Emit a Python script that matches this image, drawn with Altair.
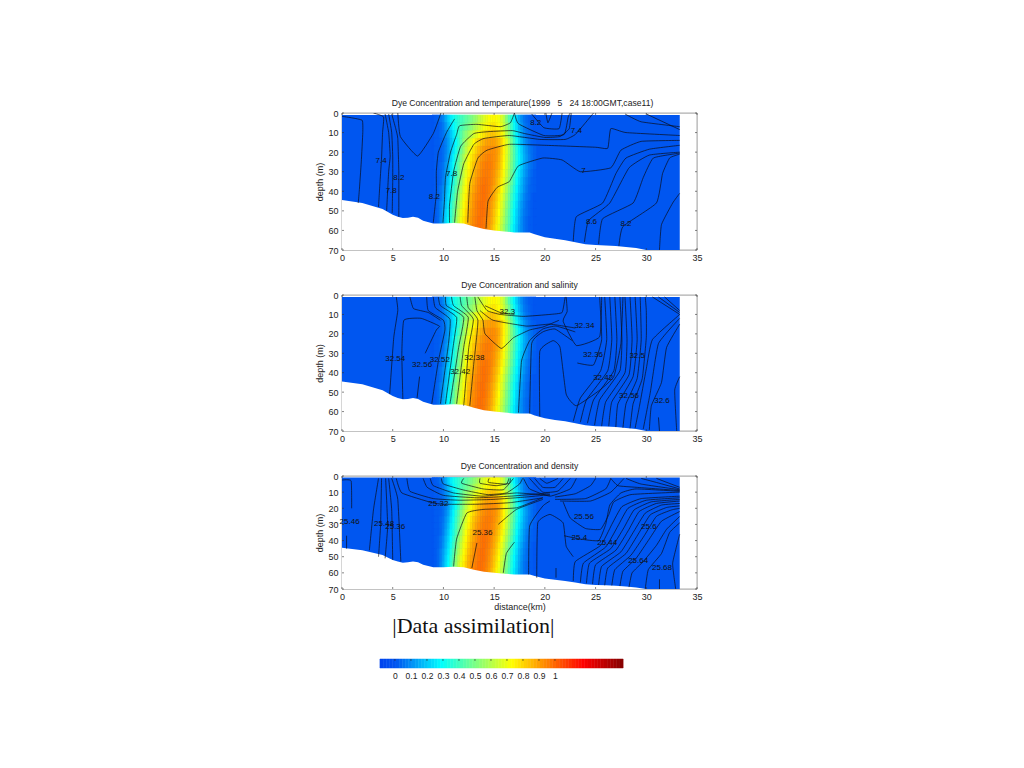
import altair as alt
import pandas as pd

FONT = "Liberation Sans"
X_TICKS = [0, 5, 10, 15, 20, 25, 30, 35]
Y_TICKS = [0, 10, 20, 30, 40, 50, 60, 70]
BAR_TICKS = [0, 0.1, 0.2, 0.3, 0.4, 0.5, 0.6, 0.7, 0.8, 0.9, 1]
BAR_LEVELS = [round(-0.094 + 0.02 * i, 3) for i in range(76)]
SCALE_DOMAIN = [-0.094, 0, 0.28, 0.5, 0.72, 1.17, 1.44]
SCALE_RANGE = ["#0044ee", "#0056f0", "#00ffff", "#80ff80", "#ffff00", "#ff0000", "#780000"]

BOTTOM_X = [0, 2, 4, 5, 5.5, 6, 6.5, 7, 7.5, 8, 9, 10, 11, 12, 13, 14, 15, 16, 17, 18, 18.5, 19, 20, 21, 22, 23, 24, 25, 26, 27, 28, 29, 30, 31, 33.3]
BOTTOM_D = [44.5, 46, 49, 52, 53, 53.7, 53.5, 53, 53.5, 55, 56.5, 56.5, 56.2, 56.5, 58, 59.3, 60, 60.5, 61, 61, 61, 62, 63.5, 64.3, 65, 66, 67, 67.5, 67.7, 68, 68.5, 69, 70, 70.5, 71]

DYE_X = [9, 9.25, 9.5, 9.75, 10, 10.25, 10.5, 10.75, 11, 11.25, 11.5, 11.75, 12, 12.25, 12.5, 12.75, 13, 13.25, 13.5, 13.75, 14, 14.25, 14.5, 14.75, 15, 15.25, 15.5, 15.75, 16, 16.25, 16.5, 16.75, 17, 17.25, 17.5, 17.75, 18, 18.25, 18.5, 18.75, 19]
DYE_D = [3, 7, 11, 15, 19, 23, 27, 31, 35, 39, 43, 47, 51, 55, 59]
DYE = [
    [0,.01,.02,.05,.08,.14,.2,.25,.3,.33,.36,.39,.41,.44,.46,.49,.52,.55,.59,.63,.66,.69,.71,.72,.73,.72,.7,.66,.6,.51,.42,.34,.27,.2,.14,.09,.05,.03,.01,.01,0],
    [0,.01,.01,.03,.06,.11,.17,.22,.28,.32,.36,.4,.43,.46,.49,.52,.56,.6,.63,.67,.7,.72,.74,.75,.76,.74,.72,.68,.62,.55,.47,.38,.3,.23,.16,.11,.06,.04,.02,.01,0],
    [0,.01,.01,.03,.05,.09,.13,.18,.24,.3,.36,.42,.48,.52,.56,.6,.64,.68,.71,.74,.77,.79,.81,.82,.82,.8,.78,.74,.68,.6,.52,.43,.34,.26,.19,.13,.08,.05,.03,.01,0],
    [0,.01,.01,.02,.04,.07,.12,.17,.22,.28,.35,.43,.51,.57,.62,.67,.72,.76,.8,.83,.86,.88,.89,.89,.89,.87,.84,.8,.74,.67,.58,.48,.38,.3,.22,.16,.11,.07,.04,.02,.01],
    [0,.01,.01,.02,.04,.07,.12,.18,.24,.31,.38,.46,.53,.6,.66,.71,.76,.8,.84,.87,.9,.91,.92,.92,.92,.9,.87,.81,.74,.67,.59,.5,.42,.34,.26,.2,.14,.1,.06,.04,.02],
    [0,.01,.01,.02,.04,.08,.13,.2,.27,.35,.42,.5,.57,.64,.7,.75,.79,.83,.87,.9,.92,.93,.94,.93,.92,.9,.86,.8,.73,.66,.58,.5,.42,.34,.27,.21,.15,.11,.07,.04,.02],
    [0,.01,.01,.03,.05,.1,.15,.22,.29,.37,.44,.52,.6,.66,.72,.77,.82,.86,.89,.92,.94,.95,.95,.94,.92,.89,.85,.79,.72,.65,.57,.49,.41,.33,.26,.2,.14,.1,.06,.04,.02],
    [0,.01,.01,.03,.06,.11,.17,.24,.31,.38,.46,.54,.62,.68,.74,.79,.84,.88,.91,.93,.95,.95,.95,.93,.91,.87,.83,.77,.7,.63,.55,.47,.39,.31,.24,.18,.13,.09,.05,.03,.01],
    [0,.01,.01,.03,.07,.13,.19,.26,.33,.4,.48,.56,.64,.71,.77,.82,.86,.9,.93,.95,.96,.96,.95,.93,.9,.86,.81,.75,.68,.61,.53,.45,.37,.29,.22,.16,.11,.07,.04,.02,.01],
    [0,.01,.02,.05,.09,.15,.21,.28,.36,.43,.51,.59,.67,.73,.79,.84,.88,.91,.94,.96,.97,.96,.95,.92,.88,.84,.79,.72,.65,.58,.5,.42,.34,.27,.2,.15,.1,.06,.03,.02,.01],
    [0,.01,.02,.05,.1,.16,.23,.3,.38,.46,.54,.62,.69,.75,.81,.86,.9,.93,.95,.96,.97,.96,.94,.91,.87,.82,.76,.69,.62,.55,.47,.39,.32,.25,.18,.13,.08,.05,.03,.01,0],
    [0,.01,.03,.07,.12,.18,.25,.33,.41,.49,.57,.64,.71,.77,.83,.87,.91,.94,.96,.97,.97,.95,.93,.89,.85,.8,.74,.67,.6,.52,.45,.37,.3,.23,.16,.11,.07,.04,.02,.01,0],
    [0,.01,.03,.07,.13,.2,.27,.35,.43,.52,.6,.67,.73,.79,.85,.89,.92,.94,.96,.97,.97,.95,.92,.88,.83,.78,.72,.65,.58,.5,.43,.35,.28,.21,.15,.1,.06,.04,.02,.01,0],
    [0,.01,.03,.08,.14,.21,.28,.36,.45,.54,.62,.69,.75,.81,.86,.9,.93,.95,.97,.97,.96,.94,.91,.87,.82,.76,.7,.63,.56,.49,.42,.34,.27,.2,.14,.09,.05,.03,.01,.01,0],
    [0,.02,.04,.09,.14,.21,.29,.37,.46,.55,.63,.7,.76,.82,.87,.91,.94,.96,.97,.97,.96,.93,.9,.85,.8,.74,.68,.61,.54,.47,.4,.32,.25,.19,.13,.09,.05,.03,.01,.01,0],
]

TEMP_LINES = [
    [(0,1.7),(1,2.5),(2,3.8),(2.05,10),(1.9,25),(1.7,40),(1.6,46)],
    [(3.1,0),(4.1,2),(4,10),(3.9,23),(3.75,35),(3.6,48)],
    [(4.25,.5),(4.6,10),(4.75,22),(4.6,30),(4.4,50)],
    [(4.6,.5),(4.9,10),(5,22),(5,35),(4.95,51)],
    [(4.9,.5),(5.3,8),(5.5,13),(5.6,30),(5.6,53)],
    [(5.5,0),(5.75,12),(7.45,22),(9,10.5),(9.75,0)],
    [(11.1,3),(10.3,10),(9.5,20),(9.3,30),(9.3,41),(9,56)],
    [(9.95,56),(10.1,45),(10.2,33),(10.7,20),(11.3,11),(11.6,6.5),(13.3,5.8),(15.6,7),(16.6,5),(17,0)],
    [(10.6,56),(10.6,47),(11,30),(11.7,17),(13,10.5),(14.5,9.5),(16.8,9),(18,10.5),(20,12.5),(21.5,12),(22.4,8),(22.6,0)],
    [(11.1,56),(11.4,40),(12,26),(13,16),(14,13),(16.5,11.5),(19.5,13.5),(22,13.5),(23,11),(24,5),(24.8,0)],
    [(12.4,56),(12.6,36),(13.4,23),(14.3,19),(16.5,16),(20,16.5),(25,17.5),(26.2,18),(26.5,8),(28,10),(33.3,11.5)],
    [(14.2,59),(14.4,45),(15.3,38),(16.5,35),(17.4,27),(19.8,23),(21.7,24),(23.5,30),(26.5,28),(27.5,19),(29.5,14.5),(33.3,14)],
    [(17,0),(17.4,5.5),(19.9,11.5),(21.9,11),(22.3,2),(22.5,0)],
    [(18.7,.5),(19.9,7.5),(21.4,8),(21.7,0)],
    [(20.1,0),(20.3,5),(20.7,0)],
    [(27.9,.5),(29.5,4.5),(33.3,7)],
    [(30,.5),(33.3,8.5)],
    [(22.8,65.5),(23.1,53),(25.7,46),(27,31),(28,23),(30.3,18.5),(33.3,16.5)],
    [(23.9,66),(24.3,55),(26.4,46),(28.3,28),(30.3,21.5),(33.3,20)],
    [(25.3,67),(25.7,54),(28.7,46),(29.7,33),(30.7,23),(33.3,20.5)],
    [(27.3,68),(27.7,58),(31,46),(31.6,31),(32.3,23),(33.3,21)],
    [(31.3,70),(31.5,57),(32.6,46),(33.3,41)],
]
TEMP_LABELS = [("7.4",3.85,24.3),("8.2",5.6,33.4),("7.8",4.85,39.7),("8.2",9.1,43),("7.8",10.8,31),("8.2",19.1,5),("7.4",23.1,9.4),("7",23.8,29.5),("8.6",24.6,55.8),("8.2",28,56.8)]

SALT_LINES = [
    [(5.35,1),(5.5,8),(5.1,22),(4.7,51)],
    [(8.2,30),(9.3,18),(9.6,16),(7.8,12),(6.1,13),(5.9,30),(6,53.5)],
    [(6.7,1),(7.05,7),(8.5,9),(9.7,13)],
    [(7.4,53),(7.65,42)],
    [(8.35,1),(8.5,8),(10,13),(10.15,18),(9.5,34),(8.85,56)],
    [(9,1),(9.2,6.5),(10.65,12.5),(10.5,25),(9.7,56)],
    [(9.5,1),(9.7,5.5),(11.3,11.5),(11,25),(10.2,56)],
    [(10.2,1),(10.3,5.5),(12,11.5),(11.5,27),(10.65,56)],
    [(10.8,1),(11,5.5),(12.45,11.5),(12,27),(11.3,56)],
    [(11.65,1),(11.8,5.5),(12.95,12.5),(12.5,27),(12,57)],
    [(12.3,1),(12.45,6.5),(13.4,13),(13,35),(12.6,57)],
    [(13.1,1),(13.3,8),(13.9,13),(14.1,20),(15.7,27.5),(16.9,22),(18.5,18),(19.8,16.5),(21.4,13)],
    [(22.1,1),(22.2,8.5),(21.8,13.5),(23.1,26),(25.4,21.5),(25.6,1)],
    [(13.4,1),(14.3,8),(15.6,10),(17.9,11),(20.5,10),(21.7,9),(22,1)],
    [(14.1,5.5),(15.6,9),(17,10)],
    [(13.6,8),(14.9,13),(18.2,16),(20.5,15),(23,17)],
    [(17.4,60.5),(17.7,34),(18.5,23.5),(19.8,17.5),(21.1,16),(23,19)],
    [(18.5,61),(18.7,25),(19.8,19),(21,17.5),(22.7,23.5)],
    [(19.5,62.5),(19.5,29),(20.8,23.5),(21.5,27),(22.1,51),(23.1,57),(25.4,49),(26.8,42),(27.5,25),(27.7,1)],
    [(25.4,1),(25.6,23),(24.8,36),(23.2,35)],
    [(25.9,1),(26.1,23),(25.5,39),(23.5,53),(22.8,65)],
    [(26.4,1),(26.6,23),(26.2,39),(24.1,54),(23.5,65.5)],
    [(26.9,1),(27.1,23),(26.8,39),(24.8,54),(24.2,66)],
    [(27.4,1),(27.6,23),(27.4,39),(25.4,54),(24.9,67)],
    [(27.9,1),(28.1,23),(27.9,40),(26,55),(25.6,67.5)],
    [(28.4,1),(28.6,23),(28.3,41),(26.6,55),(26.3,67.5)],
    [(28.9,1),(29.1,23),(28.7,42),(27.2,56),(27,68)],
    [(29.4,1),(29.5,23),(29.1,43),(28,56),(27.7,68.3)],
    [(29.9,1),(30,8),(30,22),(29.6,43),(28.7,56),(28.4,68.6)],
    [(30.6,1),(33.3,10)],
    [(31.2,1),(33.3,9)],
    [(31.8,1),(33.3,8)],
    [(33.3,10),(30.6,23),(30,38),(29.3,58),(28.9,68.5)],
    [(33.3,12),(31.2,25),(30.4,50),(29.7,69)],
    [(33.3,15),(32,27),(31.5,45),(30.5,57),(30.3,69.5)],
    [(31.3,70),(31.2,63)],
    [(33,70),(32.8,49),(33.3,42)],
]
SALT_LABELS = [("32.54",5.25,32.9),("32.56",7.9,36),("32.52",9.65,33.4),("32.38",13.05,32.4),("32.42",11.65,39.4),("32.3",16.3,9),("32.34",23.9,15.8),("32.36",24.75,30.8),("32.5",29.1,31.5),("32.42",25.75,42.8),("32.56",28.3,52),("32.6",31.55,54.5)]

DENS_LINES = [
    [(0,2.5),(.9,3),(.95,20)],
    [(.45,45),(.45,37)],
    [(3.6,1.5),(3.1,21),(2.7,46)],
    [(3.9,1.5),(3.8,31),(3.6,50)],
    [(4.3,1.5),(4.5,31),(4.25,51)],
    [(4.6,1.5),(4.9,21),(5,52)],
    [(4.9,1.5),(5.5,14.5),(5.8,53)],
    [(5.35,1.5),(5.9,10.5),(8.85,16.5),(10,17.5),(13.3,17.5),(16.6,16.5),(19.8,13.5)],
    [(6.4,1.5),(6.7,9.5),(9,14),(11.6,15),(14.9,14.5),(18.2,13),(20.5,11.5)],
    [(8,1.5),(8.4,7),(10,12),(13.3,13.5),(16.6,12.5),(20.5,10.5)],
    [(8.7,1.5),(9,6),(11,10.5),(13.9,12.5),(17.2,10.5),(20.5,12)],
    [(9.8,1.5),(10,5),(12,8.7),(14.3,11.5),(16.2,10.5),(17.5,5),(17.8,1.5)],
    [(12,1.5),(11.8,4.5),(13.9,8),(15.9,8.5),(16.9,1.5)],
    [(13.6,1.5),(13.6,4.5),(15.2,6),(16.5,4.5),(16.6,1.5)],
    [(14.5,1.5),(14.45,4),(16.2,5),(16.45,1.5)],
    [(11,56),(11.3,39),(12.3,23),(13.9,20.7),(17.2,19.7),(19.8,13.5)],
    [(12.8,57),(13.3,41.5)],
    [(15.9,60),(16.2,48),(17,41)],
    [(15.4,30),(17.2,20.7),(19.8,14.5)],
    [(18.4,61),(18.5,31),(19.8,18.6),(20.5,15.5)],
    [(19.2,63),(19.3,29),(20.5,23.8),(21.8,29),(22.1,43.5),(22.8,50)],
    [(21.1,63),(21.1,57)],
    [(19,1.5),(19.8,7),(21,7),(21.8,1.5)],
    [(18.5,1.5),(19.8,10),(21.3,9.3),(22.5,1.5)],
    [(17.9,1.5),(18.5,8),(20.5,12.5),(22.5,8),(23.1,1.5)],
    [(19.5,1.5),(20.2,4.5),(21.3,1.5)],
    [(21,13),(23,11),(24.5,6),(25,1.5)],
    [(21,14.5),(24,14),(26,8),(26.5,1.5)],
    [(21.5,15.5),(24.5,15.5),(26.5,10),(27.8,1.5)],
    [(22.8,65),(23,53),(25.5,43),(26.6,30),(27.6,19),(29.5,14),(33.3,12.5)],
    [(23.5,66),(23.8,54),(26,44),(27.2,31),(28.2,20),(30,15),(33.3,13.5)],
    [(24.1,66.5),(24.4,54),(26.5,45),(27.8,32),(28.8,21),(30.5,16),(33.3,14.5)],
    [(24.7,67),(25,55),(27,46),(28.3,33),(29.3,22),(31,17),(33.3,15.5)],
    [(25.3,67.5),(25.6,56),(27.5,47),(28.8,34),(29.9,23),(31.5,18),(33.3,17)],
    [(25.9,67.7),(26.2,57),(28,48),(29.3,35),(30.4,24),(32,19.5),(33.3,18.5)],
    [(26.6,67.8),(26.9,58),(28.5,49),(29.8,37),(31,25),(32.5,21),(33.3,20)],
    [(27.4,68.2),(27.7,59),(29,51),(30.3,39),(31.5,28),(33.3,22)],
    [(28.3,68.8),(28.6,60),(29.7,53),(31,43),(32,33),(33.3,25)],
    [(29.9,70),(30.2,58),(31.5,48),(32.3,35),(33.3,29)],
    [(21.8,16),(22.5,26),(24,32.5),(25.5,33),(26.3,24),(26.8,16),(28.5,11.5),(33.3,10)],
    [(21.9,37),(23.4,39),(25.3,40),(26,30),(26.4,18),(27.5,10.5),(29,8),(33.3,9.5)],
    [(26.5,1.5),(27.2,6),(29,7),(33.3,9)],
    [(28,1.5),(29.5,5),(33.3,8.5)],
    [(29.5,1.5),(31,4),(33.3,8)],
    [(31,1.5),(33.3,7)],
    [(31.3,70),(31.3,64)],
    [(32.9,70),(32.6,54),(33.3,36)],
]
DENS_LABELS = [("25.46",.75,28.4),("25.48",4.15,29.6),("25.36",5.25,31.5),("25.32",9.5,17.6),("25.36",13.85,35.2),("25.56",23.85,25.3),("25.4",23.4,38.7),("25.44",26.15,41.4),("25.6",30.25,31.7),("25.64",29.2,52.4),("25.68",31.55,57.1)]

color_scale = alt.Scale(domain=SCALE_DOMAIN, range=SCALE_RANGE, interpolate="rgb", clamp=True)
x_scale = alt.Scale(domain=[0, 35], nice=False)
y_scale = alt.Scale(domain=[0, 70], reverse=True, nice=False)

base_df = pd.DataFrame({"x": [0], "x2": [33.3], "d": [1], "d2": [70], "v": [0.0]})
cells = []
for i, d in enumerate(DYE_D):
    for j, x in enumerate(DYE_X):
        cells.append({"x": x - .125, "x2": x + .125, "d": d - 2, "d2": d + 2 if d < 59 else 66, "v": DYE[i][j]})
cell_df = pd.DataFrame(cells)
floor_df = pd.DataFrame({"x": BOTTOM_X, "d": BOTTOM_D, "d2": [72] * len(BOTTOM_X)})


def panel(title, lines, labels, height, x_title=None, dx=0):
    rows = [{"line": n, "i": k, "x": p[0], "d": p[1]} for n, ln in enumerate(lines) for k, p in enumerate(ln)]
    line_df = pd.DataFrame(rows)
    label_df = pd.DataFrame(labels, columns=["t", "x", "d"])
    x_enc = alt.X("x:Q", scale=x_scale, axis=alt.Axis(values=X_TICKS, ticks=False, domain=False, grid=False, labelOverlap=False, labelFlush=False, labelFontSize=9, labelPadding=3, labelColor="#222", title=x_title, titleFontSize=9, titleFontWeight="normal", titleColor="#222", titlePadding=1))
    y_enc = alt.Y("d:Q", scale=y_scale, axis=alt.Axis(values=Y_TICKS, ticks=False, domain=False, grid=False, labelOverlap=False, labelFlush=False, labelFontSize=9, labelPadding=4, labelColor="#222", title="depth (m)", titleFontSize=9, titleFontWeight="normal", titleColor="#222", titlePadding=3))
    color = alt.Color("v:Q", scale=color_scale, legend=None)
    rect = alt.Chart(base_df).mark_rect(clip=True).encode(x=x_enc, x2="x2:Q", y=y_enc, y2="d2:Q", color=color)
    plume = alt.Chart(cell_df).mark_rect(clip=True, strokeWidth=.6).encode(x=x_enc, x2="x2:Q", y=y_enc, y2="d2:Q", color=color, stroke=color)
    floor = alt.Chart(floor_df).mark_area(color="white", clip=True).encode(x=x_enc, y=y_enc, y2="d2:Q")
    contour = alt.Chart(line_df).mark_line(color="#0a0a14", strokeWidth=.8, clip=True, interpolate="cardinal", tension=.6, opacity=.85).encode(x=x_enc, y=y_enc, detail="line:N", order="i:Q")
    text = alt.Chart(label_df).mark_text(fontSize=8, color="#111", font=FONT).encode(x=x_enc, y=y_enc, text="t:N")
    xt = pd.DataFrame({"x": X_TICKS})
    yt = pd.DataFrame({"d": Y_TICKS})
    tick = dict(color="#333", strokeWidth=.6)
    tb = alt.Chart(xt).mark_rule(**tick).encode(x=x_enc, y=alt.value(height - 2), y2=alt.value(height))
    tt = alt.Chart(xt).mark_rule(**tick).encode(x=x_enc, y=alt.value(0), y2=alt.value(2))
    tl = alt.Chart(yt).mark_rule(**tick).encode(y=y_enc, x=alt.value(0), x2=alt.value(2))
    tr = alt.Chart(yt).mark_rule(**tick).encode(y=y_enc, x=alt.value(353), x2=alt.value(355))
    return alt.layer(rect, plume, floor, contour, text, tb, tt, tl, tr).properties(
        width=355, height=height,
        title=alt.TitleParams(title, fontSize=8.6, fontWeight="normal", font=FONT, color="#222", offset=1, dx=dx),
        view=alt.ViewBackground(stroke="#555", strokeWidth=.6),
    )


p1 = panel("Dye Concentration and temperature(1999\u00a0\u00a0\u00a05\u00a0\u00a0\u00a024 18:00GMT,case11)", TEMP_LINES, TEMP_LABELS, 137, dx=3)
p2 = panel("Dye Concentration and salinity", SALT_LINES, SALT_LABELS, 136)
p3 = panel("Dye Concentration and density", DENS_LINES, DENS_LABELS, 113, "distance(km)")

bar_x = alt.X("x:Q", scale=alt.Scale(domain=[-0.331, 1.8875], nice=False), axis=alt.Axis(values=BAR_TICKS, format="~g", ticks=False, domain=False, grid=False, labelOverlap=False, labelFlush=False, labelFontSize=8.5, labelPadding=3, labelColor="#222", title=None))
bar_y = alt.Y("y:Q", scale=alt.Scale(domain=[0, 34], reverse=True, nice=False), axis=None)
n_bar = len(BAR_LEVELS)
bar_df = pd.DataFrame({"x": BAR_LEVELS, "x2": [v + 0.02 for v in BAR_LEVELS], "v": BAR_LEVELS, "y": [25] * n_bar, "y2": [34] * n_bar})
bar_color = alt.Color("v:Q", scale=color_scale, legend=None)
bar = alt.Chart(bar_df).mark_rect(strokeWidth=.5).encode(x=bar_x, x2="x2:Q", y=bar_y, y2="y2:Q", color=bar_color, stroke=bar_color)
bar_tick_df = pd.DataFrame({"x": BAR_TICKS, "y": [25] * 11, "y2": [27] * 11})
bar_ticks = alt.Chart(bar_tick_df).mark_rule(color="#222", strokeWidth=.6).encode(x=bar_x, y=bar_y, y2="y2:Q")
caption = alt.Chart(pd.DataFrame({"x": [0.49], "y": [-8], "t": ["|Data assimilation|"]})).mark_text(fontSize=22, font="Liberation Serif", color="#111", clip=False).encode(x=bar_x, y=bar_y, text="t:N")
p4 = alt.layer(bar, bar_ticks, caption).properties(width=355, height=34, view=alt.ViewBackground(stroke=None))

chart = alt.vconcat(p1, p2, p3, p4, spacing=45, bounds="flush").resolve_scale(color="independent").properties(
    padding={"left": 307, "top": 91, "right": 0, "bottom": 0}
).configure(font=FONT)
chart.save("out.html", embed_options={"renderer": "svg", "actions": False})
